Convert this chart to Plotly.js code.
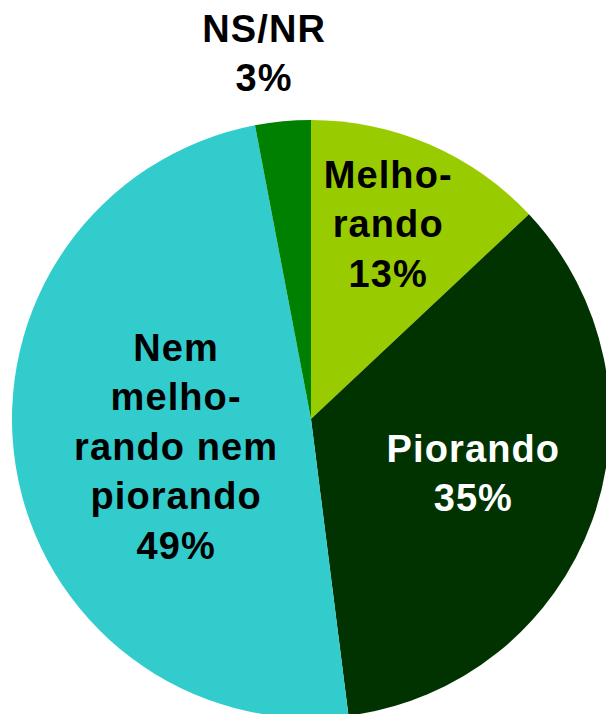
<!DOCTYPE html>
<html><head><meta charset="utf-8">
<script src="https://cdn.plot.ly/plotly-3.0.1.min.js"></script>
<style>html,body{margin:0;padding:0;overflow:hidden;background:#fff;width:606px;height:714px}#c{width:640px;height:760px}
#c .annotation-text{letter-spacing:1.1px}</style>
</head><body><div id="c"></div>
<script>
const categories = ["Melhorando", "Piorando", "Nem melhorando nem piorando", "NS/NR"];
const labelText = ["Melho-<br>rando", "Piorando", "Nem<br>melho-<br>rando nem<br>piorando", "NS/NR"];
const values = [13, 35, 49, 3];
const colors = ["#99cc00", "#003300", "#33cccc", "#008000"];
const textColors = ["#000000", "#ffffff", "#000000", "#000000"];
// label placement (style): radius as fraction of pie radius, angular nudge in degrees
const labelRadius = [0.70, 0.572, 0.461, 1.231];
const labelAngleShift = [-1.9, -1.2, -2.7, -1.9];

const W = 640, H = 760;
const cx = 311, cy = 419, R = 299;
const FS = 38;

const total = values.reduce((a, b) => a + b, 0);
let cum = 0;
const annotations = values.map((v, i) => {
  const mid = (cum + v / 2) / total * 360 + labelAngleShift[i];
  cum += v;
  const a = mid * Math.PI / 180;
  const px = cx + labelRadius[i] * R * Math.sin(a);
  const py = cy - labelRadius[i] * R * Math.cos(a);
  return {
    xref: "paper", yref: "paper",
    x: px / W, y: 1 - py / H,
    xanchor: "center", yanchor: "middle",
    showarrow: false, align: "center",
    text: labelText[i] + "<br>" + v + "%",
    font: {family: "Liberation Sans, Arial, sans-serif", size: FS, color: textColors[i], weight: "bold"}
  };
});

const trace = {
  type: "pie",
  labels: categories,
  values: values,
  textinfo: "none",
  sort: false,
  direction: "clockwise",
  rotation: 0,
  marker: {colors: colors, line: {width: 0}},
  hoverinfo: "none",
  showlegend: false,
  domain: {x: [(cx - R) / W, (cx + R) / W], y: [(H - cy - R) / H, (H - cy + R) / H]}
};
Plotly.newPlot("c", [trace], {
  width: W, height: H,
  margin: {l: 0, r: 0, t: 0, b: 0},
  paper_bgcolor: "#ffffff",
  showlegend: false,
  annotations: annotations
}, {staticPlot: true, displayModeBar: false});
</script></body></html>
